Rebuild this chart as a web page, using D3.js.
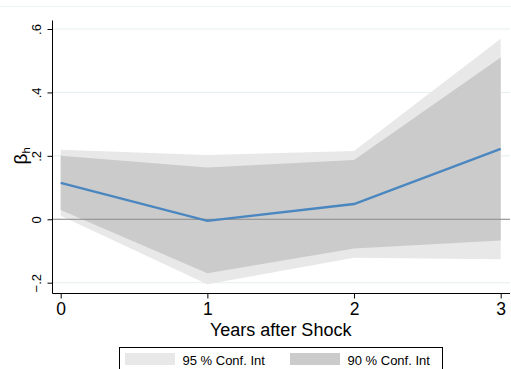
<!DOCTYPE html>
<html>
<head>
<meta charset="utf-8">
<script src="https://cdn.jsdelivr.net/npm/d3@7"></script>
<style>
  html, body { margin: 0; padding: 0; background: #fff; }
  svg { display: block; font-family: "Liberation Sans", Arial, sans-serif; }
</style>
</head>
<body>
<svg id="chart" width="511" height="369"></svg>
<script>
  const years = [0, 1, 2, 3];
  const beta = [0.115, -0.005, 0.048, 0.222];
  const ci95Upper = [0.219, 0.203, 0.215, 0.569];
  const ci95Lower = [0.011, -0.205, -0.121, -0.126];
  const ci90Upper = [0.200, 0.163, 0.187, 0.510];
  const ci90Lower = [0.029, -0.170, -0.092, -0.067];
  const yTicks = [-0.2, 0, 0.2, 0.4, 0.6];
  const legendItems = [
    { label: "95 % Conf. Int", color: "#e8e8e8" },
    { label: "90 % Conf. Int", color: "#cbcbcb" }
  ];

  const svg = d3.select("#chart");
  const x = d3.scaleLinear().domain([0, 3]).range([60.7, 500.7]);
  const y = d3.scaleLinear().domain([-0.2, 0.6]).range([282.7, 29]);
  const plotLeft = 52.5, plotRight = 510, axisY = 293.5;

  // faint frame line at top
  svg.append("line")
    .attr("x1", 0).attr("x2", 511).attr("y1", 6.5).attr("y2", 6.5)
    .attr("stroke", "#eef3f4").attr("stroke-width", 1);

  // gridlines
  svg.append("g").selectAll("line")
    .data(yTicks)
    .join("line")
    .attr("x1", plotLeft).attr("x2", plotRight)
    .attr("y1", (d) => y(d)).attr("y2", (d) => y(d))
    .attr("stroke", "#e4eef0").attr("stroke-width", 1);

  const idx = d3.range(years.length);
  const band = (lo, hi) => d3.area()
    .x((i) => x(years[i]))
    .y0((i) => y(lo[i]))
    .y1((i) => y(hi[i]));

  svg.append("path").datum(idx)
    .attr("d", band(ci95Lower, ci95Upper))
    .attr("fill", legendItems[0].color);
  svg.append("path").datum(idx)
    .attr("d", band(ci90Lower, ci90Upper))
    .attr("fill", legendItems[1].color);

  // zero line
  svg.append("line")
    .attr("x1", plotLeft).attr("x2", plotRight)
    .attr("y1", y(0)).attr("y2", y(0))
    .attr("stroke", "#8a8a8a").attr("stroke-width", 1);

  // point estimates
  svg.append("path").datum(idx)
    .attr("d", d3.line().x((i) => x(years[i])).y((i) => y(beta[i])))
    .attr("fill", "none")
    .attr("stroke", "#4a86bf")
    .attr("stroke-width", 2.4);

  // y axis
  const yAxis = svg.append("g")
    .attr("transform", `translate(${plotLeft},0)`)
    .call(d3.axisLeft(y).tickValues(yTicks).tickSize(5)
      .tickFormat((d) => d === 0 ? "0" : d3.format(".1f")(d).replace("0.", ".")));
  yAxis.select(".domain").attr("d", `M0,20.5V${axisY}`).attr("stroke", "#000");
  yAxis.selectAll(".tick line").attr("stroke", "#000");
  yAxis.selectAll(".tick text")
    .attr("x", 0).attr("dy", 0)
    .attr("transform", "translate(-11.5,0) rotate(-90)")
    .attr("text-anchor", "middle")
    .attr("font-size", 13)
    .attr("font-family", "Liberation Sans, Arial, sans-serif")
    .attr("fill", "#000");

  // x axis
  const xAxis = svg.append("g")
    .attr("transform", `translate(0,${axisY})`)
    .call(d3.axisBottom(x).tickValues(years).tickSize(5).tickFormat(d3.format("d")));
  xAxis.select(".domain").attr("d", `M${plotLeft},0H${plotRight}`).attr("stroke", "#000");
  xAxis.selectAll(".tick line").attr("stroke", "#000");
  xAxis.selectAll(".tick text")
    .attr("y", 9.5).attr("dy", "0.71em")
    .attr("font-size", 17.5)
    .attr("font-family", "Liberation Sans, Arial, sans-serif")
    .attr("fill", "#000");

  // axis titles
  svg.append("text")
    .attr("x", x(1.5)).attr("y", 335.5)
    .attr("text-anchor", "middle")
    .attr("font-size", 18)
    .text("Years after Shock");

  const yt = svg.append("text")
    .attr("transform", "translate(27,156) rotate(-90)")
    .attr("text-anchor", "middle")
    .attr("font-size", 19);
  yt.append("tspan").text("β");
  yt.append("tspan").attr("font-size", 11).attr("dy", 3).text("h");

  // legend
  const lg = svg.append("g").attr("transform", "translate(119.5,347.5)");
  lg.append("rect").attr("width", 323).attr("height", 30)
    .attr("fill", "#fff").attr("stroke", "#000").attr("stroke-width", 1);
  const item = lg.selectAll("g.item").data(legendItems).join("g")
    .attr("class", "item")
    .attr("transform", (d, i) => `translate(${5.5 + i * 165},5.5)`);
  item.append("rect").attr("width", 50).attr("height", 12).attr("fill", (d) => d.color);
  item.append("text").attr("x", 57.5).attr("y", 12)
    .attr("font-size", 13).text((d) => d.label);
</script>
</body>
</html>
